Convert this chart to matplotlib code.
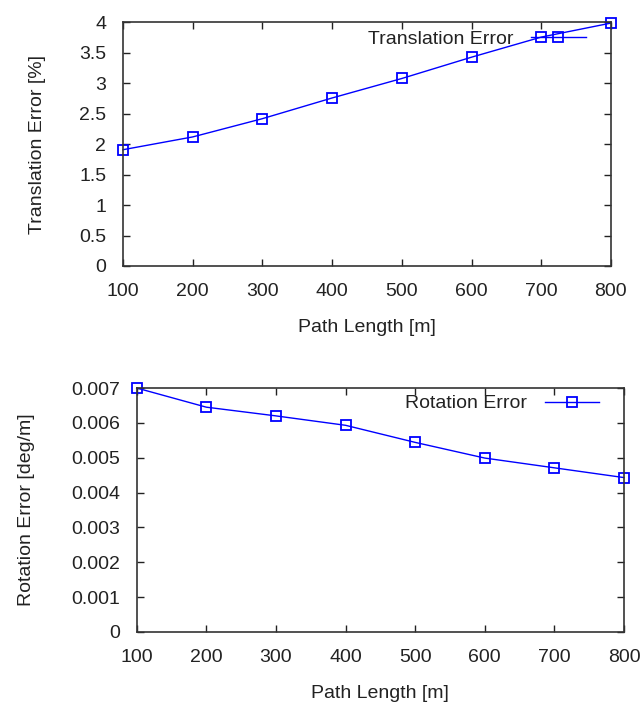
import matplotlib
matplotlib.use("Agg")
import matplotlib.pyplot as plt

plt.rcParams['font.family'] = ['Liberation Sans', 'DejaVu Sans']
plt.rcParams['font.size'] = 14
plt.rcParams['text.color'] = '#222222'

# data
path_length = [100, 200, 300, 400, 500, 600, 700, 800]
trans_err = [1.91, 2.12, 2.42, 2.76, 3.08, 3.43, 3.76, 3.99]
rot_err = [0.00700, 0.00645, 0.00620, 0.00593, 0.00544, 0.00499, 0.00471, 0.00443]

x_ticks = [100, 200, 300, 400, 500, 600, 700, 800]
trans_ticks = [0, 0.5, 1, 1.5, 2, 2.5, 3, 3.5, 4]
trans_labels = ['0', '0.5', '1', '1.5', '2', '2.5', '3', '3.5', '4']
rot_ticks = [0, 0.001, 0.002, 0.003, 0.004, 0.005, 0.006, 0.007]
rot_labels = ['0', '0.001', '0.002', '0.003', '0.004', '0.005', '0.006', '0.007']

fig = plt.figure(figsize=(6.42, 7.07), dpi=100)
ax1 = fig.add_axes([0.1916, 0.6238, 0.760, 0.3444])
ax2 = fig.add_axes([0.2129, 0.1061, 0.759, 0.3451])


def style(ax, yticks, ylabels, ylim, ylabel, ylabelpad):
    ax.set_xlim(100, 800)
    ax.set_ylim(*ylim)
    ax.set_xticks(x_ticks)
    ax.set_yticks(yticks)
    ax.set_yticklabels(ylabels)
    ax.tick_params(direction='in', top=True, right=True, length=5, width=1,
                   colors='#222222', labelsize=14)
    ax.tick_params(axis='x', pad=12)
    ax.tick_params(axis='y', pad=12)
    for s in ax.spines.values():
        s.set_color('#333333')
        s.set_linewidth(1.2)
    ax.set_xlabel('Path Length [m]', labelpad=14, color='#222222')
    ax.set_ylabel(ylabel, labelpad=ylabelpad, color='#222222')


ax1.plot(path_length, trans_err, color='blue', lw=1, marker='s', ms=7,
         mfc='none', mec='blue', mew=1.3, label='Translation Error', clip_on=False)
style(ax1, trans_ticks, trans_labels, (0, 4), 'Translation Error [%]', 24)
ax1.legend(loc='center right', bbox_to_anchor=(0.948, 0.932), frameon=False,
           markerfirst=False, handlelength=2.8, handletextpad=0.9,
           borderaxespad=0, borderpad=0, fontsize=14)

ax2.plot(path_length, rot_err, color='blue', lw=1, marker='s', ms=7,
         mfc='none', mec='blue', mew=1.3, label='Rotation Error', clip_on=False)
style(ax2, rot_ticks, rot_labels, (0, 0.007), 'Rotation Error [deg/m]', 26)
ax2.legend(loc='center right', bbox_to_anchor=(0.949, 0.936), frameon=False,
           markerfirst=False, handlelength=2.8, handletextpad=0.9,
           borderaxespad=0, borderpad=0, fontsize=14)

fig.savefig('out.png', dpi=100)
